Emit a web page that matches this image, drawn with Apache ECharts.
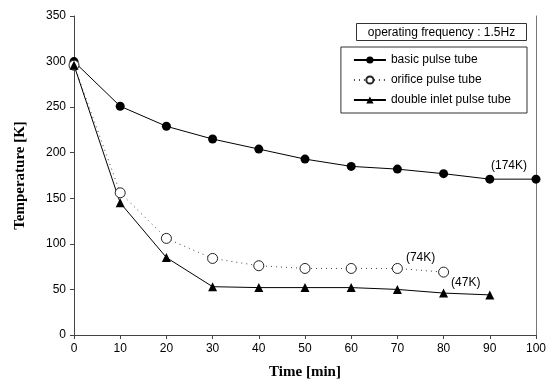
<!DOCTYPE html>
<html>
<head>
<meta charset="utf-8">
<script src="https://cdn.jsdelivr.net/npm/echarts@6/dist/echarts.min.js"></script>
<style>
  html, body { margin: 0; padding: 0; background: #fff; }
  #chart { width: 549px; height: 392px; }
</style>
</head>
<body>
<div id="chart"></div>
<script>
// time in minutes
const times = [0, 10, 20, 30, 40, 50, 60, 70, 80, 90, 100]
const basicTube = [300, 251, 229, 215, 204, 193, 185, 182, 177, 171, 171]
const orificeTube = [296, 156, 106, 84, 76, 73, 73, 73, 69]
const doubleInletTube = [296, 145, 85, 53, 52, 52, 52, 50, 46, 44]

const toPairs = (vals) => vals.map((v, i) => [times[i], v])

var chartDom = document.getElementById('chart')
var myChart = echarts.init(chartDom)

const axisColor = '#444'
const labelFont = 'Liberation Sans, Arial, sans-serif'

// put a text annotation on one point
function withNote(pairs, idx, text, offset) {
  return pairs.map((p, i) => {
    if (i !== idx) return p
    return {
      value: p,
      label: {
        show: true,
        formatter: text,
        position: 'inside',
        offset: offset,
        color: '#000',
        fontSize: 12,
        fontFamily: labelFont
      }
    }
  })
}

var option = {
  animation: false,
  backgroundColor: '#fff',
  grid: { left: 74, right: 11, top: 16, bottom: 57 },
  xAxis: {
    type: 'value',
    min: 0, max: 100, interval: 10,
    name: 'Time [min]',
    nameLocation: 'middle',
    nameGap: 30,
    nameTextStyle: { fontFamily: 'Liberation Serif, Times New Roman, serif', fontWeight: 'bold', fontSize: 15, color: '#000' },
    axisLine: { lineStyle: { color: axisColor } },
    axisTick: { show: true, length: 4, lineStyle: { color: axisColor } },
    axisLabel: { color: '#000', fontSize: 12, fontFamily: labelFont, margin: 8 },
    splitLine: { show: false }
  },
  yAxis: [
    {
      type: 'value',
      min: 0, max: 350, interval: 50,
      name: 'Temperature [K]',
      nameLocation: 'middle',
      nameGap: 46,
      nameTextStyle: { fontFamily: 'Liberation Serif, Times New Roman, serif', fontWeight: 'bold', fontSize: 15, color: '#000' },
      axisLine: { show: true, lineStyle: { color: axisColor } },
      axisTick: { show: true, length: 4, lineStyle: { color: axisColor } },
      axisLabel: { color: '#000', fontSize: 12, fontFamily: labelFont, margin: 8 },
      splitLine: { show: false }
    },
    {
      type: 'value',
      min: 0, max: 350, interval: 50,
      position: 'right',
      axisLine: { show: true, lineStyle: { color: '#777' } },
      axisTick: { show: false },
      axisLabel: { show: false },
      splitLine: { show: false }
    }
  ],
  legend: {
    orient: 'vertical',
    right: 22,
    top: 47,
    width: 187,
    padding: [7, 16, 7, 12],
    itemGap: 8,
    itemWidth: 32,
    itemHeight: 9,
    borderColor: '#333',
    borderWidth: 1,
    textStyle: { color: '#000', fontSize: 12, fontFamily: labelFont },
    data: ['basic pulse tube', 'orifice pulse tube', 'double inlet pulse tube']
  },
  graphic: [
    {
      type: 'group',
      right: 22,
      top: 23,
      children: [
        {
          type: 'rect',
          shape: { x: 0, y: 0, width: 170, height: 17 },
          style: { fill: '#fff', stroke: '#333', lineWidth: 1 }
        },
        {
          type: 'text',
          x: 85, y: 9,
          style: {
            text: 'operating frequency : 1.5Hz',
            fill: '#000',
            font: '12px ' + labelFont,
            textAlign: 'center',
            textVerticalAlign: 'middle'
          }
        }
      ]
    }
  ],
  series: [
    {
      name: 'basic pulse tube',
      type: 'line',
      data: withNote(toPairs(basicTube), 10, '(174K)', [-27, -13]),
      symbol: 'circle',
      symbolSize: 9,
      itemStyle: { color: '#000' },
      lineStyle: { color: '#000', width: 1 }
    },
    {
      name: 'orifice pulse tube',
      type: 'line',
      data: withNote(toPairs(orificeTube), 8, '(74K)', [-23, -14]),
      symbol: 'circle',
      symbolSize: 10,
      itemStyle: { color: '#fff', borderColor: '#222', borderWidth: 1 },
      lineStyle: { color: '#444', width: 1, type: [1, 4] }
    },
    {
      name: 'double inlet pulse tube',
      type: 'line',
      data: withNote(toPairs(doubleInletTube), 9, '(47K)', [-24, -12]),
      symbol: 'triangle',
      symbolSize: 9,
      itemStyle: { color: '#000' },
      lineStyle: { color: '#000', width: 1 }
    }
  ]
}

option && myChart.setOption(option)
</script>
</body>
</html>
